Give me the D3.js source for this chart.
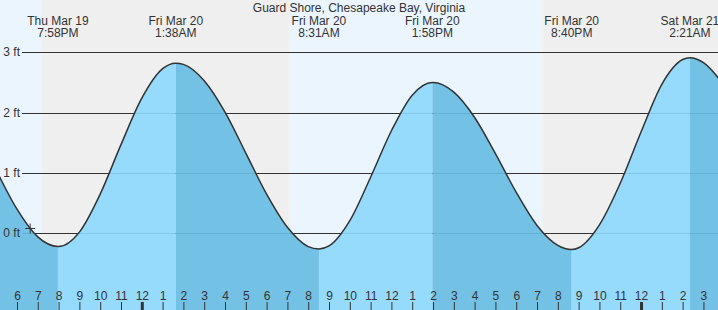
<!DOCTYPE html>
<html>
<head>
<meta charset="utf-8">
<script src="https://cdn.jsdelivr.net/npm/d3@7"></script>
<style>
  body { margin: 0; background: #fff; }
  svg { display: block; font-family: "Liberation Sans", Arial, sans-serif; }
</style>
</head>
<body>
<div id="chart"></div>
<script>
// ---- data ----
const title = "Guard Shore, Chesapeake Bay, Virginia";

// hourly tide heights (ft); hours counted from Fri Mar 20 00:00
const hourOffsets = d3.range(-7, 29);
const hourlyHeights = [
  1.05, 0.40, -0.06, -0.22, 0.02, 0.65, 1.47, 2.24, 2.73, 2.80,
  2.53, 2.01, 1.33, 0.65, 0.10, -0.22, -0.21, 0.21, 0.93, 1.70,
  2.29, 2.50, 2.34, 1.92, 1.32, 0.68, 0.13, -0.20, -0.24, 0.14,
  0.83, 1.68, 2.47, 2.88, 2.83, 2.45
];

// high / low tides
const extremeTimes = ["2026-03-19 19:58", "2026-03-20 01:38", "2026-03-20 08:31",
                      "2026-03-20 13:58", "2026-03-20 20:40", "2026-03-21 02:21"];
const extremeHeights = [-0.22, 2.82, -0.26, 2.50, -0.27, 2.91];
const extremeDays = ["Thu Mar 19", "Fri Mar 20", "Fri Mar 20", "Fri Mar 20", "Fri Mar 20", "Sat Mar 21"];
const extremeClock = ["7:58PM", "1:38AM", "8:31AM", "1:58PM", "8:40PM", "2:21AM"];

// sunset / sunrise
const sunTimes = ["2026-03-19 19:12", "2026-03-20 07:07", "2026-03-20 19:15"];

// visible time window and current time marker
const windowTimes = ["2026-03-19 17:11", "2026-03-21 03:42"];
const nowTime = "2026-03-19 18:38";
const nowHeight = 0.08;

const yTicks = [0, 1, 2, 3];

// ---- layout ----
const width = 718;
const height = 310;
const parse = d3.timeParse("%Y-%m-%d %H:%M");
const base = parse("2026-03-20 00:00");

const x = d3.scaleTime(windowTimes.map(parse), [0, width]);
const y = d3.scaleLinear([0, 3], [233.3, 52.3]);

// merge hourly readings with the extremes
const points = hourOffsets
  .map((h, i) => ({ t: d3.timeMinute.offset(base, h * 60), v: hourlyHeights[i] }))
  .concat(extremeTimes.map((t, i) => ({ t: parse(t), v: extremeHeights[i] })))
  .sort((a, b) => a.t - b.t);

const svg = d3.select("#chart").append("svg")
  .attr("width", width)
  .attr("height", height)
  .attr("viewBox", [0, 0, width, height]);

// day / night background
const dayEdges = [x.domain()[0], ...sunTimes.map(parse), x.domain()[1]];
svg.append("g").selectAll("rect")
  .data(d3.pairs(dayEdges))
  .join("rect")
  .attr("x", d => x(d[0]))
  .attr("y", 0)
  .attr("width", d => x(d[1]) - x(d[0]))
  .attr("height", height)
  .attr("fill", (d, i) => i % 2 === 0 ? "#ebf5fe" : "#efefef");

// grid lines
svg.append("g").selectAll("line")
  .data(yTicks)
  .join("line")
  .attr("x1", 22).attr("x2", width)
  .attr("y1", d => Math.round(y(d)) + 0.5)
  .attr("y2", d => Math.round(y(d)) + 0.5)
  .attr("stroke", "#333");

// water
const area = d3.area()
  .x(d => x(d.t))
  .y0(height)
  .y1(d => y(d.v))
  .curve(d3.curveMonotoneX);

svg.append("clipPath").attr("id", "water")
  .append("path").attr("d", area(points));

// rising = light, falling = dark
const tideEdges = [x.domain()[0], ...extremeTimes.map(parse), x.domain()[1]];
const water = svg.append("g").attr("clip-path", "url(#water)");
water.selectAll("rect")
  .data(d3.pairs(tideEdges))
  .join("rect")
  .attr("x", d => x(d[0]))
  .attr("y", 0)
  .attr("width", d => x(d[1]) - x(d[0]))
  .attr("height", height)
  .attr("fill", (d, i) => {
    const next = extremeHeights[i];
    const rising = next !== undefined ? next > 1 : false;
    return rising ? "#96dbfc" : "#73c1e5";
  });

water.selectAll("line")
  .data(yTicks)
  .join("line")
  .attr("x1", 22).attr("x2", width)
  .attr("y1", d => Math.round(y(d)) + 0.5)
  .attr("y2", d => Math.round(y(d)) + 0.5)
  .attr("stroke", "rgba(0,60,100,0.12)");

// y labels on top of the water
svg.append("g").selectAll("text")
  .data(yTicks)
  .join("text")
  .attr("x", 20)
  .attr("y", d => y(d) + 4)
  .attr("text-anchor", "end")
  .attr("font-size", 12)
  .attr("fill", "#333")
  .text(d => `${d} ft`);

// tide curve outline
svg.append("path")
  .attr("d", d3.line().x(d => x(d.t)).y(d => y(d.v)).curve(d3.curveMonotoneX)(points))
  .attr("fill", "none")
  .attr("stroke", "#333")
  .attr("stroke-width", 1.5);

// current time marker
const nx = x(parse(nowTime));
const ny = y(nowHeight);
svg.append("path")
  .attr("d", `M${nx - 5},${ny}H${nx + 5}M${nx},${ny - 5}V${ny + 5}`)
  .attr("stroke", "#333")
  .attr("stroke-width", 1);

// title and extreme labels
svg.append("text")
  .attr("x", width / 2)
  .attr("y", 11.5)
  .attr("text-anchor", "middle")
  .attr("font-size", 12)
  .attr("fill", "#333")
  .text(title);

const labels = svg.append("g")
  .attr("text-anchor", "middle")
  .attr("font-size", 12)
  .attr("fill", "#333");

extremeTimes.forEach((t, i) => {
  const lx = x(parse(t));
  labels.append("text").attr("x", lx).attr("y", 24.5).text(extremeDays[i]);
  labels.append("text").attr("x", lx).attr("y", 36.5).text(extremeClock[i]);
});

// hour axis along the bottom
const xAxis = d3.axisTop(x)
  .ticks(d3.timeHour.every(1))
  .tickFormat(d3.timeFormat("%-I"))
  .tickSize(8)
  .tickPadding(2);

svg.append("g")
  .attr("transform", `translate(0,${height})`)
  .call(xAxis)
  .call(g => g.select(".domain").remove())
  .call(g => g.selectAll("text").attr("font-size", 12).attr("fill", "#333").attr("font-family", null))
  .call(g => g.selectAll(".tick line")
    .attr("stroke", "#333")
    .attr("stroke-width", d => d.getHours() === 0 ? 3 : 1));
</script>
</body>
</html>
